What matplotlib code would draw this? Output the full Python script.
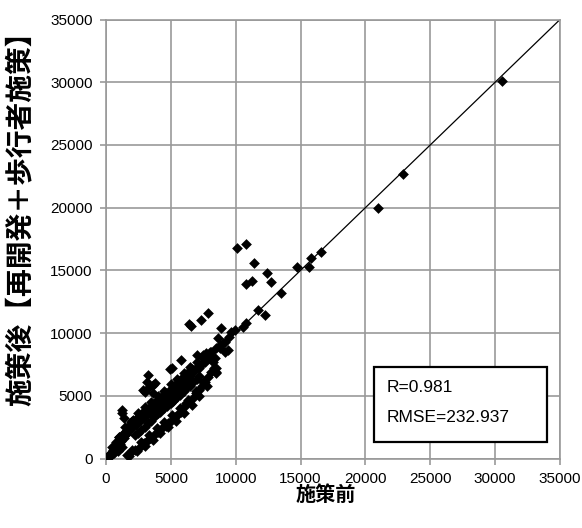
import matplotlib.pyplot as plt
from matplotlib.patches import Rectangle

# values (施策前 / 施策後)
before = [
    50, 100, 150, 200, 250, 300, 350, 400, 450, 500, 550, 600, 650, 700, 750, 800,
    850, 900, 950, 1000, 1050, 1100, 1150, 1200, 1250, 1300, 1350, 1400, 1450, 1500,
    1550, 1600, 1650, 1700, 1750, 1800, 1850, 1900, 1950, 2000, 2050, 2100, 2200, 2300,
    2400, 2500, 2600, 2700, 2800, 2900, 3000, 3100, 3200, 3300, 3400, 3500, 3600, 3700,
    3800, 3900, 4000, 4100, 4200, 4300, 4400, 4500, 4600, 4700, 4800, 4900, 5000, 5100,
    5200, 5300, 5400, 5500, 5600, 5700, 5800, 5900, 6000, 6100, 6200, 6300, 6400, 6500,
    6600, 6800, 7000, 7200, 7400, 7600, 7800, 8000,
    500, 1000, 1500, 2000, 2500, 3000, 3500, 4000, 4500, 5000, 5500, 6000, 6500, 7000,
    7500, 8000, 8500, 9000, 9500,
    600, 900, 1200, 2500, 3000, 3500, 4000, 4500, 5000, 5500, 6000, 6500, 7000,
    2200, 2700, 3200, 3700, 4200, 4700, 5200, 5700, 6200, 6700, 7200,
    1250, 1200, 1350, 1000, 800,
    1600, 1900, 2200, 2600, 2900, 3100, 3400, 3700, 4000, 4300, 4600, 4800, 5000, 5300,
    5500, 5800, 6000, 6200, 6400, 6700, 6900, 7200, 7400, 7600, 7900, 8100, 8300,
    1800, 2400, 3000, 3600, 4200, 4800, 5400, 6000, 6600, 7200, 7800,
    2000, 2700, 3300, 3900, 4500, 5100, 5700, 6300, 6900, 7500,
    3256, 3128, 3256, 2999, 3641, 3770, 2871, 3641, 4923, 5744, 5051, 6977, 7744, 8130,
    8769, 9154, 7487, 8256, 7744, 8513, 8513, 8513, 7615, 8385, 8641, 9154, 9410, 8769,
    7872, 7359, 6413, 6550, 8898, 9667, 9923, 10564, 10821, 11718, 12231, 10121, 10817,
    11435, 12439, 12748, 10817, 11280, 13521, 14757, 15839, 16612, 15684, 20950, 22923,
    30562,
]
after = [
    80, 150, 60, 250, 180, 350, 300, 420, 500, 380, 650, 700, 560, 900, 820, 1000,
    1100, 950, 1200, 1300, 1150, 1500, 1400, 1700, 1550, 1800, 1650, 2000, 1900, 2100,
    1950, 2300, 2200, 2400, 2250, 2600, 2450, 2700, 2900, 2500, 3100, 2800, 3000, 2700,
    3200, 3000, 3400, 3100, 3600, 3300, 3700, 3500, 3900, 3600, 4100, 3800, 4300, 4000,
    4500, 4200, 4600, 4400, 4800, 4500, 5000, 4700, 5200, 4900, 5300, 5100, 5500, 5200,
    5700, 5400, 5900, 5600, 6100, 5800, 6300, 6000, 6500, 6200, 6700, 6400, 6900, 6600,
    7100, 7000, 7300, 7200, 7500, 7700, 7900, 8100,
    900, 1700, 2500, 3000, 3600, 4100, 4500, 5000, 5400, 5900, 6300, 6800, 7300, 7700,
    8000, 8500, 8800, 9200, 9700,
    400, 600, 900, 2000, 2500, 3000, 3600, 4000, 4400, 4900, 5400, 5800, 6300,
    1900, 2300, 2800, 3300, 3700, 4200, 4600, 5100, 5600, 6100, 6600,
    3900, 3600, 3250, 1700, 1300,
    300, 500, 700, 900, 1200, 1300, 1600, 1900, 2100, 2400, 2600, 2800, 3000, 3300,
    3500, 3700, 4100, 4400, 4600, 4800, 5200, 5500, 5800, 6100, 6500, 6900, 7200,
    200, 600, 1000, 1500, 2000, 2500, 3000, 3600, 4300, 5000, 5800,
    700, 1300, 1900, 2400, 2900, 3500, 4000, 4700, 5400, 6100,
    6659, 6124, 5598, 5327, 5199, 5997, 5463, 5861, 7113, 7855, 7193, 8254, 8389, 8517,
    8788, 8517, 8254, 7719, 7855, 6922, 6794, 7193, 8118, 7990, 9585, 9314, 8652, 9051,
    11579, 11045, 10763, 10600, 10383, 10112, 10247, 10510, 10781, 11842, 11443, 16822, 17141,
    15626, 14829, 14032, 13952, 14191, 13234, 15228, 16025, 16424, 15228, 19990, 22687,
    30104,
]
ticks = [0, 5000, 10000, 15000, 20000, 25000, 30000, 35000]
stats = ["R=0.981", "RMSE=232.937"]

grid_c = "#999999"
jp = ["Noto Sans CJK JP", "DejaVu Sans"]

fig = plt.figure(figsize=(5.82, 5.28), dpi=100)
ax = fig.add_axes([106 / 582, 1 - 458.5 / 528, 454 / 582, 439 / 528])

ax.plot([0, 35000], [0, 35000], color="black", lw=0.9, zorder=2)
ax.scatter(before, after, marker="D", s=30, color="black", linewidths=0, zorder=3)

ax.set_xlim(0, 35000)
ax.set_ylim(0, 35000)
ax.set_xticks(ticks)
ax.set_yticks(ticks)
ax.grid(True, color=grid_c, lw=1.2, zorder=0)
ax.set_axisbelow(True)
for s in ax.spines.values():
    s.set_color(grid_c)
    s.set_linewidth(1.2)
ax.tick_params(length=4.5, width=1.2, color=grid_c, labelsize=11, pad=5)
for lab in ax.get_xticklabels() + ax.get_yticklabels():
    lab.set_family("Liberation Sans")

fig.text(326 / 582, 1 - 494 / 528, "施策前", ha="center", va="center",
         fontsize=14.5, fontweight="bold", family=jp)
fig.text(21 / 582, 1 - 212 / 528, "施策後【再開発＋歩行者施策】", ha="center", va="center",
         rotation=90, fontsize=20, fontweight="bold", family=jp)

# R / RMSE box
ax.add_patch(Rectangle((0.590, 0.0376), 0.381, 0.171, transform=ax.transAxes,
                       fill=True, facecolor="white", edgecolor="black", lw=1.6, zorder=4))
ax.text(0.619, 0.1606, stats[0], transform=ax.transAxes, va="center", ha="left",
        fontsize=12.5, family="Liberation Sans", zorder=5)
ax.text(0.619, 0.0923, stats[1], transform=ax.transAxes, va="center", ha="left",
        fontsize=12.5, family="Liberation Sans", zorder=5)

fig.savefig("out.png", dpi=100)
